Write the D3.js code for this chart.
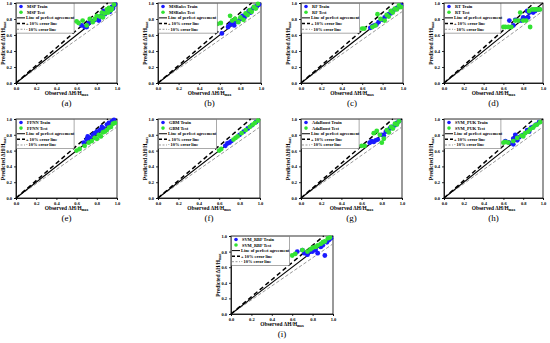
<!DOCTYPE html>
<html><head><meta charset="utf-8">
<script src="https://cdn.jsdelivr.net/npm/d3@7"></script>
<style>body{margin:0;background:#fff}svg{display:block}</style>
</head><body>
<script>
const models = ["MSP","MSRules","RF","RT","FFNN","GBM","AdaBoost","SVM_PUK","SVM_RBF"];
const panelLabels = ["(a)","(b)","(c)","(d)","(e)","(f)","(g)","(h)","(i)"];
const tickValues = [0.0,0.2,0.4,0.6,0.8,1.0];
const legendLines = ["Line of perfect agreement","+ 10% error line","- 10% error line"];

const mspTrain = [[0.65,0.72],[0.68,0.70],[0.70,0.70],[0.72,0.75],[0.75,0.77],[0.78,0.79],[0.80,0.80],[0.82,0.78],[0.84,0.83],[0.85,0.85],[0.87,0.90],[0.88,0.86],[0.90,0.90],[0.92,0.92],[0.93,0.89],[0.95,0.95],[0.96,0.93],[0.97,0.97],[0.98,0.98]];
const mspTest = [[0.60,0.77],[0.62,0.75],[0.66,0.78],[0.70,0.72],[0.73,0.80],[0.76,0.76],[0.78,0.80],[0.80,0.84],[0.83,0.83],[0.85,0.88],[0.86,0.82],[0.88,0.87],[0.90,0.92],[0.91,0.88],[0.92,0.94],[0.94,0.91],[0.95,0.93],[0.97,0.98]];
const msrTrain = [[0.62,0.62],[0.68,0.70],[0.70,0.73],[0.72,0.75],[0.74,0.72],[0.76,0.77],[0.80,0.80],[0.82,0.84],[0.84,0.82],[0.86,0.86],[0.88,0.90],[0.90,0.88],[0.92,0.93],[0.94,0.95],[0.96,0.96],[0.98,0.98]];
const msrTest = [[0.58,0.74],[0.61,0.75],[0.70,0.84],[0.72,0.78],[0.75,0.80],[0.78,0.76],[0.80,0.82],[0.83,0.79],[0.85,0.87],[0.87,0.85],[0.89,0.91],[0.91,0.89],[0.93,0.95],[0.95,0.93],[0.97,0.99]];
const rfTrain = [[0.68,0.69],[0.70,0.71],[0.72,0.72],[0.74,0.73],[0.76,0.76],[0.80,0.79],[0.82,0.82],[0.84,0.84],[0.86,0.86],[0.88,0.87],[0.90,0.90],[0.92,0.92],[0.94,0.94],[0.96,0.95],[0.98,0.97]];
const rfTest = [[0.60,0.68],[0.62,0.68],[0.70,0.70],[0.73,0.72],[0.75,0.86],[0.78,0.80],[0.82,0.78],[0.84,0.85],[0.86,0.83],[0.88,0.90],[0.90,0.88],[0.92,0.93],[0.94,0.92],[0.96,0.97],[0.98,0.95]];
const rtTrain = [[0.66,0.78],[0.70,0.72],[0.72,0.79],[0.78,0.78],[0.80,0.82],[0.82,0.80],[0.84,0.90],[0.85,0.82],[0.86,0.88],[0.88,0.90],[0.90,0.88],[0.92,0.90],[0.94,0.92],[0.96,0.92]];
const rtTest = [[0.60,0.70],[0.62,0.70],[0.65,0.70],[0.68,0.70],[0.72,0.78],[0.75,0.78],[0.77,0.88],[0.80,0.78],[0.83,0.78],[0.87,0.70],[0.86,0.90],[0.89,0.92],[0.91,0.92],[0.93,0.92],[0.95,0.92],[0.97,0.92]];
const ffnnTrain = [[0.67,0.70],[0.70,0.74],[0.71,0.78],[0.73,0.76],[0.76,0.80],[0.78,0.82],[0.80,0.84],[0.83,0.86],[0.85,0.90],[0.87,0.88],[0.90,0.93],[0.92,0.95],[0.95,0.97],[0.97,0.99]];
const ffnnTest = [[0.60,0.60],[0.63,0.62],[0.68,0.66],[0.72,0.70],[0.75,0.72],[0.78,0.76],[0.80,0.75],[0.82,0.80],[0.84,0.78],[0.86,0.83],[0.88,0.84],[0.90,0.86],[0.92,0.89],[0.94,0.90],[0.96,0.94],[0.98,0.95]];
const gbmTrain = [[0.66,0.66],[0.68,0.69],[0.70,0.70],[0.72,0.72],[0.80,0.80],[0.84,0.84],[0.88,0.88],[0.92,0.92],[0.96,0.96]];
const gbmTest = [[0.60,0.60],[0.62,0.62],[0.74,0.74],[0.76,0.76],[0.78,0.78],[0.82,0.82],[0.86,0.86],[0.90,0.90],[0.93,0.93],[0.95,0.95],[0.98,0.98]];
const adaTrain = [[0.68,0.70],[0.70,0.72],[0.72,0.71],[0.74,0.73],[0.76,0.74],[0.80,0.80],[0.82,0.79],[0.84,0.84],[0.86,0.86],[0.88,0.88],[0.90,0.90],[0.93,0.92],[0.95,0.95],[0.97,0.97]];
const adaTest = [[0.60,0.66],[0.63,0.66],[0.72,0.82],[0.75,0.85],[0.78,0.80],[0.80,0.70],[0.82,0.75],[0.85,0.86],[0.87,0.83],[0.89,0.90],[0.91,0.88],[0.93,0.94],[0.95,0.93],[0.97,0.97]];
const pukTrain = [[0.62,0.72],[0.66,0.70],[0.70,0.68],[0.70,0.75],[0.72,0.80],[0.74,0.73],[0.76,0.77],[0.80,0.80],[0.84,0.86],[0.86,0.84],[0.88,0.89],[0.90,0.90],[0.93,0.93],[0.96,0.96]];
const pukTest = [[0.60,0.70],[0.62,0.71],[0.65,0.70],[0.70,0.72],[0.74,0.76],[0.78,0.79],[0.80,0.78],[0.82,0.82],[0.85,0.84],[0.87,0.87],[0.90,0.89],[0.92,0.92],[0.94,0.93],[0.97,0.96]];
const rbfTrain = [[0.65,0.80],[0.70,0.82],[0.72,0.78],[0.75,0.76],[0.78,0.80],[0.80,0.80],[0.83,0.82],[0.85,0.78],[0.88,0.86],[0.90,0.88],[0.92,0.75],[0.94,0.92],[0.96,0.95],[0.98,0.97]];
const rbfTest = [[0.60,0.75],[0.63,0.77],[0.70,0.82],[0.75,0.80],[0.78,0.83],[0.80,0.85],[0.83,0.86],[0.85,0.88],[0.88,0.90],[0.90,0.92],[0.92,0.93],[0.95,0.97],[0.97,0.98]];

const trainSets = [mspTrain,msrTrain,rfTrain,rtTrain,ffnnTrain,gbmTrain,adaTrain,pukTrain,rbfTrain];
const testSets = [mspTest,msrTest,rfTest,rtTest,ffnnTest,gbmTest,adaTest,pukTest,rbfTest];

// layout
const frames = [
  [16,3,117,83],[158,3,261,83],[301,3,403,83],[444,3,543,83],
  [16,119,117,198],[158,119,260,198],[301,119,402,198],[444,119,543,198],
  [231,236,333,314]
];
const BLUE = "#1a1aff", GREEN = "#33e233";
const FONT = "'Liberation Serif','Times New Roman',serif";

const svg = d3.select("body").append("svg").attr("width",550).attr("height",343)
  .style("font-family",FONT);
svg.append("rect").attr("width",550).attr("height",343).attr("fill","#fff");

models.forEach((m,i) => {
  const [x0,y0,x1,y1] = frames[i];
  const w = x1-x0, h = y1-y0;
  const g = svg.append("g").attr("transform",`translate(${x0},${y0})`);
  const x = d3.scaleLinear().domain([0,1]).range([0,w]);
  const y = d3.scaleLinear().domain([0,1]).range([h,0]);

  const xa = g.append("g").attr("transform",`translate(0,${h})`)
    .call(d3.axisBottom(x).tickValues(tickValues).tickFormat(d3.format(".1f")).tickSize(2).tickPadding(2));
  const ya = g.append("g")
    .call(d3.axisLeft(y).tickValues(tickValues).tickFormat(d3.format(".1f")).tickSize(2).tickPadding(2));
  [xa,ya].forEach(a => {
    a.selectAll("text").attr("font-size",4.5).attr("font-weight","bold").attr("font-family",FONT);
    a.selectAll("path,line").attr("stroke","#000").attr("stroke-width",0.8);
  });
  g.append("rect").attr("width",w).attr("height",h).attr("fill","none").attr("stroke","#000").attr("stroke-width",0.8);

  g.append("line").attr("x1",x(0)).attr("y1",y(0)).attr("x2",x(1)).attr("y2",y(0.9))
    .attr("stroke","#999").attr("stroke-width",1).attr("stroke-dasharray","3.5,2");
  g.append("line").attr("x1",x(0)).attr("y1",y(0)).attr("x2",x(1/1.1)).attr("y2",y(1))
    .attr("stroke","#000").attr("stroke-width",1.5).attr("stroke-dasharray","4.5,3");
  g.append("line").attr("x1",x(0)).attr("y1",y(0)).attr("x2",x(1)).attr("y2",y(1))
    .attr("stroke","#000").attr("stroke-width",1.1);

  g.selectAll("circle.tr").data(trainSets[i]).join("circle").attr("class","tr")
    .attr("cx",d=>x(d[0])).attr("cy",d=>y(d[1])).attr("r",2.4).attr("fill",BLUE);
  g.selectAll("circle.te").data(testSets[i]).join("circle").attr("class","te")
    .attr("cx",d=>x(d[0])).attr("cy",d=>y(d[1])).attr("r",2.4).attr("fill",GREEN);

  const lw = w*0.57, lh = h*0.37;
  const lg = g.append("g");
  lg.append("rect").attr("x",0.5).attr("y",0.5).attr("width",lw).attr("height",lh)
    .attr("fill","#fff").attr("stroke","#555").attr("stroke-width",0.5);
  const rowH = lh/5.2;
  const labels = [m+" Train", m+" Test"].concat(legendLines);
  labels.forEach((t,k) => {
    const cy = 3.5 + k*rowH;
    if (k===0 || k===1) {
      lg.append("circle").attr("cx",5).attr("cy",cy).attr("r",1.8).attr("fill",k===0?BLUE:GREEN);
    } else if (k===2) {
      lg.append("line").attr("x1",1).attr("x2",9).attr("y1",cy).attr("y2",cy).attr("stroke","#000").attr("stroke-width",1);
    } else if (k===3) {
      lg.append("line").attr("x1",1).attr("x2",9).attr("y1",cy).attr("y2",cy).attr("stroke","#000").attr("stroke-width",1.5).attr("stroke-dasharray","3,2");
    } else {
      lg.append("line").attr("x1",1).attr("x2",9).attr("y1",cy).attr("y2",cy).attr("stroke","#999").attr("stroke-width",1).attr("stroke-dasharray","2,1.5");
    }
    lg.append("text").attr("x", k<2 ? 11 : 10).attr("y",cy+1.5).attr("font-size",4.4).attr("font-weight","bold").text(t);
  });

  const xt = g.append("text").attr("x",w/2).attr("y",h+12).attr("text-anchor","middle")
    .attr("font-size",5.4).attr("font-weight","bold");
  xt.append("tspan").text("Observed ΔH/H");
  xt.append("tspan").attr("font-size",3.6).attr("dy",1.2).text("max");
  const yt = g.append("text").attr("transform",`translate(-11,${h/2}) rotate(-90)`).attr("text-anchor","middle")
    .attr("font-size",5.4).attr("font-weight","bold");
  yt.append("tspan").text("Predicted ΔH/H");
  yt.append("tspan").attr("font-size",3.6).attr("dy",1.2).text("max");

  g.append("text").attr("x",w/2).attr("y",h+23).attr("text-anchor","middle")
    .attr("font-size",9).attr("font-family",FONT).text(panelLabels[i]);
});
</script>
</body></html>
